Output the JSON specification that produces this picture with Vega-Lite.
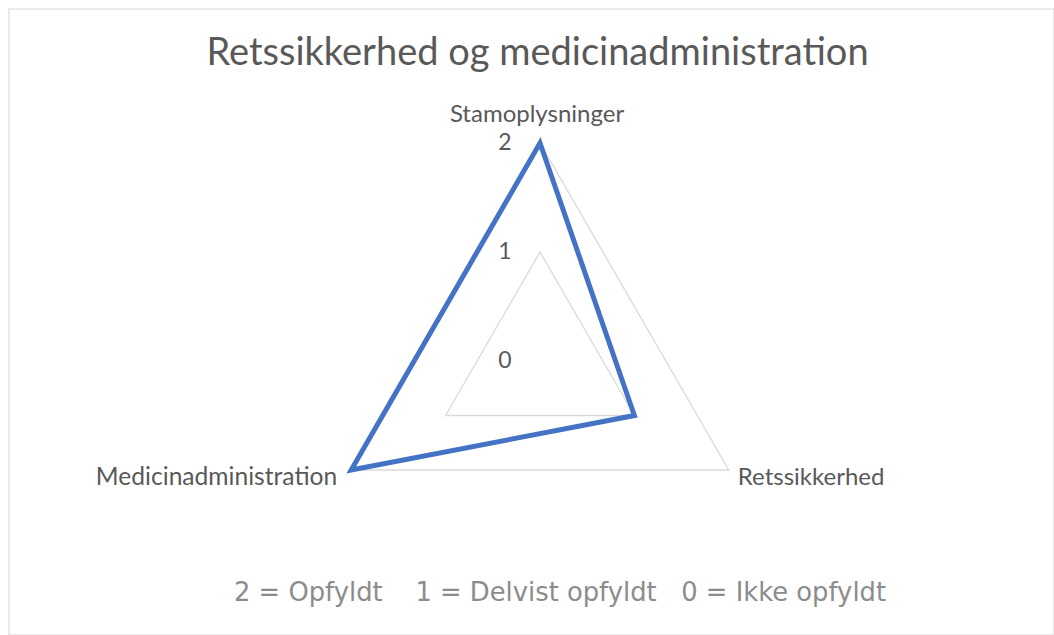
{
  "$schema": "https://vega.github.io/schema/vega-lite/v6.json",
  "width": 1045,
  "height": 626,
  "padding": {"left": 9, "top": 9, "right": 0, "bottom": 0},
  "autosize": "none",
  "background": "white",
  "config": {"view": {"stroke": "#e3e3e3", "strokeWidth": 1.5}},
  "title": {
    "text": "Retssikkerhed og medicinadministration",
    "font": "Lato",
    "fontSize": 38,
    "fontWeight": "normal",
    "color": "#595959",
    "anchor": "middle",
    "frame": "group",
    "baseline": "alphabetic",
    "offset": -94,
    "dx": 6
  },
  "datasets": {
    "scores": [
      {"kategori": "Stamoplysninger", "score": 2},
      {"kategori": "Retssikkerhed", "score": 1},
      {"kategori": "Medicinadministration", "score": 2}
    ],
    "grid": [
      {"kategori": "Stamoplysninger", "niveau": 1},
      {"kategori": "Retssikkerhed", "niveau": 1},
      {"kategori": "Medicinadministration", "niveau": 1},
      {"kategori": "Stamoplysninger", "niveau": 2},
      {"kategori": "Retssikkerhed", "niveau": 2},
      {"kategori": "Medicinadministration", "niveau": 2}
    ],
    "niveauer": [{"niveau": 0}, {"niveau": 1}, {"niveau": 2}],
    "forklaring": [{"tekst": "2 = Opfyldt \u00a0\u00a0\u00a01 = Delvist opfyldt \u00a0\u00a00 = Ikke opfyldt"}]
  },
  "layer": [
    {
      "data": {"name": "grid"},
      "transform": [
        {"window": [{"op": "row_number", "as": "i"}], "groupby": ["niveau"]},
        {"calculate": "PI/2 - (datum.i - 1) * 2 * PI / 3", "as": "a"},
        {"calculate": "datum.niveau * cos(datum.a)", "as": "px"},
        {"calculate": "datum.niveau * sin(datum.a)", "as": "py"}
      ],
      "mark": {"type": "line", "interpolate": "linear-closed", "stroke": "#d9d9d9", "strokeWidth": 1.3},
      "encoding": {
        "x": {"field": "px", "type": "quantitative", "scale": {"domain": [-4.8716, 4.7156], "nice": false, "zero": false}, "axis": null},
        "y": {"field": "py", "type": "quantitative", "scale": {"domain": [-2.5138, 3.2294], "nice": false, "zero": false}, "axis": null},
        "detail": {"field": "niveau"},
        "order": {"field": "i", "type": "quantitative"}
      }
    },
    {
      "data": {"name": "scores"},
      "transform": [
        {"window": [{"op": "row_number", "as": "i"}]},
        {"calculate": "PI/2 - (datum.i - 1) * 2 * PI / 3", "as": "a"},
        {"calculate": "datum.score * cos(datum.a)", "as": "px"},
        {"calculate": "datum.score * sin(datum.a)", "as": "py"}
      ],
      "mark": {"type": "line", "interpolate": "linear-closed", "stroke": "#4472C4", "strokeWidth": 5, "strokeJoin": "miter"},
      "encoding": {
        "x": {"field": "px", "type": "quantitative", "scale": {"domain": [-4.8716, 4.7156], "nice": false, "zero": false}, "axis": null},
        "y": {"field": "py", "type": "quantitative", "scale": {"domain": [-2.5138, 3.2294], "nice": false, "zero": false}, "axis": null},
        "order": {"field": "i", "type": "quantitative"}
      }
    },
    {
      "data": {"name": "niveauer"},
      "mark": {"type": "text", "font": "Lato", "fontSize": 23, "color": "#595959", "align": "center", "baseline": "middle", "dx": -35},
      "encoding": {
        "x": {"datum": 0, "type": "quantitative", "scale": {"domain": [-4.8716, 4.7156], "nice": false, "zero": false}, "axis": null},
        "y": {"field": "niveau", "type": "quantitative", "scale": {"domain": [-2.5138, 3.2294], "nice": false, "zero": false}, "axis": null},
        "text": {"field": "niveau", "type": "quantitative"}
      }
    },
    {
      "data": {"name": "scores"},
      "transform": [
        {"window": [{"op": "row_number", "as": "i"}]},
        {"calculate": "PI/2 - (datum.i - 1) * 2 * PI / 3", "as": "a"},
        {"calculate": "2 * cos(datum.a)", "as": "px"},
        {"calculate": "2 * sin(datum.a)", "as": "py"},
        {"filter": "datum.i == 1"}
      ],
      "mark": {"type": "text", "font": "Lato", "fontSize": 24, "color": "#595959", "align": "center", "baseline": "middle", "dy": -28, "dx": -3},
      "encoding": {
        "x": {"field": "px", "type": "quantitative", "scale": {"domain": [-4.8716, 4.7156], "nice": false, "zero": false}, "axis": null},
        "y": {"field": "py", "type": "quantitative", "scale": {"domain": [-2.5138, 3.2294], "nice": false, "zero": false}, "axis": null},
        "text": {"field": "kategori"}
      }
    },
    {
      "data": {"name": "scores"},
      "transform": [
        {"window": [{"op": "row_number", "as": "i"}]},
        {"calculate": "PI/2 - (datum.i - 1) * 2 * PI / 3", "as": "a"},
        {"calculate": "2 * cos(datum.a)", "as": "px"},
        {"calculate": "2 * sin(datum.a)", "as": "py"},
        {"filter": "datum.i == 2"}
      ],
      "mark": {"type": "text", "font": "Lato", "fontSize": 24, "color": "#595959", "align": "left", "baseline": "middle", "dy": 8, "dx": 9},
      "encoding": {
        "x": {"field": "px", "type": "quantitative", "scale": {"domain": [-4.8716, 4.7156], "nice": false, "zero": false}, "axis": null},
        "y": {"field": "py", "type": "quantitative", "scale": {"domain": [-2.5138, 3.2294], "nice": false, "zero": false}, "axis": null},
        "text": {"field": "kategori"}
      }
    },
    {
      "data": {"name": "scores"},
      "transform": [
        {"window": [{"op": "row_number", "as": "i"}]},
        {"calculate": "PI/2 - (datum.i - 1) * 2 * PI / 3", "as": "a"},
        {"calculate": "2 * cos(datum.a)", "as": "px"},
        {"calculate": "2 * sin(datum.a)", "as": "py"},
        {"filter": "datum.i == 3"}
      ],
      "mark": {"type": "text", "font": "Lato", "fontSize": 24.6, "color": "#595959", "align": "right", "baseline": "middle", "dy": 8, "dx": -14},
      "encoding": {
        "x": {"field": "px", "type": "quantitative", "scale": {"domain": [-4.8716, 4.7156], "nice": false, "zero": false}, "axis": null},
        "y": {"field": "py", "type": "quantitative", "scale": {"domain": [-2.5138, 3.2294], "nice": false, "zero": false}, "axis": null},
        "text": {"field": "kategori"}
      }
    },
    {
      "data": {"name": "forklaring"},
      "mark": {"type": "text", "font": "DejaVu Sans", "fontSize": 25.8, "color": "#8c8c8c", "align": "center", "baseline": "middle"},
      "encoding": {
        "x": {"datum": 0.1835, "type": "quantitative", "scale": {"domain": [-4.8716, 4.7156], "nice": false, "zero": false}, "axis": null},
        "y": {"datum": -2.128, "type": "quantitative", "scale": {"domain": [-2.5138, 3.2294], "nice": false, "zero": false}, "axis": null},
        "text": {"field": "tekst"}
      }
    }
  ]
}
